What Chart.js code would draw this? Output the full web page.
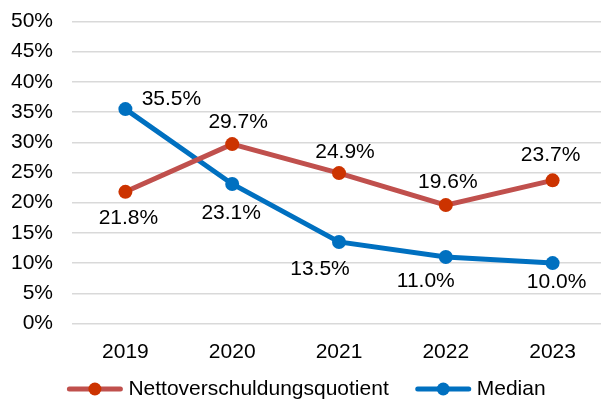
<!DOCTYPE html>
<html>
<head>
<meta charset="utf-8">
<script src="https://cdn.jsdelivr.net/npm/chart.js@4.4.0/dist/chart.umd.min.js"></script>
<style>
  html, body { margin: 0; padding: 0; background: #fff; overflow: hidden; }
  #wrap { width: 613px; height: 400px; }
</style>
</head>
<body>
<div id="wrap"><canvas id="myChart"></canvas></div>
<script>
// values (percent)
var years = ['2019', '2020', '2021', '2022', '2023'];
var nettoQuote = [21.8, 29.7, 24.9, 19.6, 23.7];
var median = [35.5, 23.1, 13.5, 11.0, 10.0];
var yTicks = [0, 5, 10, 15, 20, 25, 30, 35, 40, 45, 50];

// label offsets (dx, dy) from each point, like in the excel chart
var nettoLabelPos = [[3, 26], [6, -22], [6, -21], [2, -23], [-2, -25]];
var medianLabelPos = [[46, -10], [-1, 29], [-19, 27], [-20, 24], [4, 19]];

var FONT = '"Liberation Sans", Arial, sans-serif';
var FSIZE = 21;
var RED_LINE = '#C0504D';
var RED_DOT = '#CC3300';
var BLUE = '#0070C0';

var dataLabels = {
    id: 'dataLabels',
    afterDatasetsDraw: function(chart) {
        var ctx = chart.ctx;
        ctx.save();
        ctx.font = FSIZE + 'px ' + FONT;
        ctx.fillStyle = '#000';
        ctx.textAlign = 'center';
        ctx.textBaseline = 'middle';
        chart.data.datasets.forEach(function(ds, i) {
            var meta = chart.getDatasetMeta(i);
            meta.data.forEach(function(pt, j) {
                var off = ds.labelPos[j];
                ctx.fillText(ds.data[j].toFixed(1) + '%', pt.x + off[0], pt.y + off[1]);
            });
        });
        ctx.restore();
    }
};

// legend drawn by hand: line with a dot, like excel does it
var lineLegend = {
    id: 'lineLegend',
    afterDraw: function(chart) {
        var ctx = chart.ctx;
        var y = 389;
        ctx.save();
        ctx.font = FSIZE + 'px ' + FONT;
        ctx.textBaseline = 'middle';
        var sets = chart.data.datasets;
        var widths = sets.map(function(ds) { return ctx.measureText(ds.label).width; });
        var total = 0;
        widths.forEach(function(w) { total += 55 + 6 + w; });
        total += 27 * (sets.length - 1);
        var x = chart.width / 2 - total / 2;
        sets.forEach(function(ds, i) {
            ctx.strokeStyle = ds.borderColor;
            ctx.lineWidth = 5;
            ctx.lineCap = 'round';
            ctx.beginPath();
            ctx.moveTo(x + 2, y);
            ctx.lineTo(x + 53, y);
            ctx.stroke();
            ctx.fillStyle = ds.pointBackgroundColor;
            ctx.beginPath();
            ctx.arc(x + 27.5, y, 6.5, 0, Math.PI * 2);
            ctx.fill();
            ctx.fillStyle = '#000';
            ctx.fillText(ds.label, x + 61, y);
            x += 55 + 6 + widths[i] + 27;
        });
        ctx.restore();
    }
};

var ctx = document.getElementById('myChart').getContext('2d');
var myChart = new Chart(ctx, {
    type: 'line',
    data: {
        labels: years,
        datasets: [{
            label: 'Nettoverschuldungsquotient',
            data: nettoQuote,
            labelPos: nettoLabelPos,
            borderColor: RED_LINE,
            backgroundColor: RED_DOT,
            pointBackgroundColor: RED_DOT,
            pointBorderColor: RED_DOT,
            borderWidth: 5,
            pointRadius: 7,
            pointBorderWidth: 0,
            tension: 0
        }, {
            label: 'Median',
            data: median,
            labelPos: medianLabelPos,
            borderColor: BLUE,
            backgroundColor: BLUE,
            pointBackgroundColor: BLUE,
            pointBorderColor: BLUE,
            borderWidth: 5,
            pointRadius: 7,
            pointBorderWidth: 0,
            tension: 0
        }]
    },
    options: {
        responsive: true,
        maintainAspectRatio: false,
        animation: false,
        layout: { padding: { top: 21.5, right: 0, bottom: 0, left: 0 } },
        plugins: {
            legend: { display: false },
            tooltip: { enabled: false }
        },
        scales: {
            x: {
                offset: true,
                grid: { display: false, drawTicks: false, offset: true },
                border: { display: false },
                ticks: { color: '#000', font: { family: FONT, size: FSIZE }, padding: 16 },
                afterFit: function(scale) {
                    scale.height = 76.5;
                    scale.paddingLeft = 0;
                    scale.paddingRight = 0;
                }
            },
            y: {
                min: 0,
                max: 50,
                afterBuildTicks: function(scale) {
                    scale.ticks = yTicks.map(function(v) { return { value: v }; });
                },
                grid: { color: '#D9D9D9', lineWidth: 1.5, drawTicks: false },
                border: { display: false },
                ticks: {
                    color: '#000',
                    font: { family: FONT, size: FSIZE },
                    padding: 19,
                    callback: function(v) { return v + '%'; }
                },
                afterFit: function(scale) {
                    scale.width = 72;
                    scale.paddingTop = 0;
                    scale.paddingBottom = 0;
                }
            }
        }
    },
    plugins: [dataLabels, lineLegend]
});
</script>
</body>
</html>
